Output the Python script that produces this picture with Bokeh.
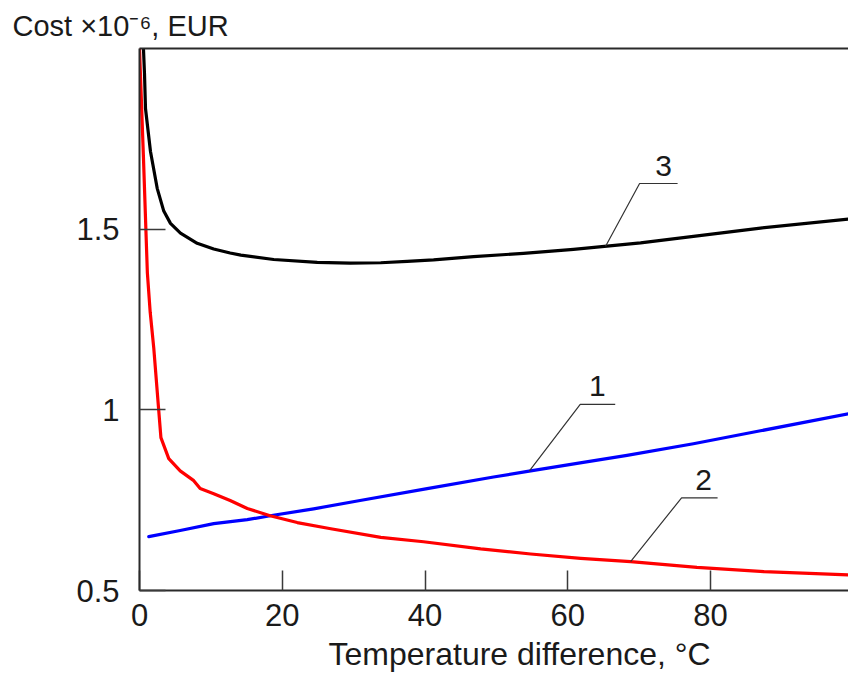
import numpy as np
from bokeh.plotting import figure
from bokeh.models import Range1d, FixedTicker, Label, LinearAxis, Title
from bokeh.embed import file_html
from bokeh.resources import INLINE

# ---------------- data ----------------
# curve 1 (blue)
t_1 = [1.3, 5.7, 10.4, 15.1, 18.3, 24.4, 30.9, 40.3, 49.6, 54.8, 61.3, 68.3, 77.6, 87.0, 99.33]
cost_1 = [0.649, 0.666, 0.685, 0.696, 0.707, 0.726, 0.749, 0.782, 0.814, 0.831, 0.852, 0.874, 0.906, 0.942, 0.989]

# curve 2 (red)
t_2 = [0.0, 0.55, 1.1, 1.5, 2.0, 2.7, 3.0, 4.1, 5.7, 7.6, 8.5, 10.4, 12.7, 15.1, 18.3, 22.1,
       26.8, 33.8, 39.8, 47.8, 54.8, 61.8, 68.8, 78.1, 87.5, 99.33]
cost_2 = [2.0, 1.70, 1.38, 1.27, 1.171, 0.997, 0.923, 0.865, 0.831, 0.804, 0.782, 0.768, 0.749, 0.727,
          0.707, 0.688, 0.671, 0.647, 0.635, 0.615, 0.601, 0.589, 0.58, 0.564, 0.552, 0.543]

# curve 3 (black, total)
t_3 = [0.45, 0.7, 0.84, 1.54, 2.48, 3.4, 4.34, 5.74, 8.08, 10.4, 12.7, 14.2, 18.8, 24.9, 29.5,
       33.8, 37.5, 41.2, 46.8, 53.8, 60.8, 65.5, 70.2, 77.6, 87.0, 99.33]
cost_3 = [2.05, 1.93, 1.834, 1.715, 1.613, 1.55, 1.516, 1.489, 1.461, 1.445, 1.434, 1.428, 1.416,
          1.408, 1.406, 1.407, 1.411, 1.415, 1.424, 1.433, 1.444, 1.453, 1.462, 1.48, 1.503, 1.528]

x_ticks = [0, 20, 40, 60, 80]
y_ticks = [0.5, 1.0, 1.5]
y_tick_labels = ["0.5", "1", "1.5"]
y_title = "Cost ×10⁻⁶, EUR"
x_title = "Temperature difference, °C"
curve_names = ["1", "2", "3"]
callout_t = [54.6, 68.8, 65.3]

# ---------------- layout / style ----------------
W, H = 848, 680
L, R, T, B = 139, 0, 46, 90
X0, X_END = 0.0, 99.33
Y0, Y1 = 0.5, 2.0
XS = (X_END - X0) / (W - L - R)   # data per px
YS = (Y1 - Y0) / (H - T - B)
TXT = "#1a1a1a"
AX = "#2a2a2a"
SANS = "Liberation Sans"

p = figure(width=W, height=H, x_range=Range1d(X0, X_END), y_range=Range1d(Y0, Y1),
           output_backend="svg", toolbar_location=None,
           min_border_left=L, min_border_right=R, min_border_top=T, min_border_bottom=B)
p.outline_line_color = None
p.grid.visible = False
p.background_fill_color = "white"
p.border_fill_color = "white"

for ax in (p.xaxis[0], p.yaxis[0]):
    ax.axis_line_width = 2
    ax.axis_line_color = AX
    ax.major_tick_line_color = "#3a3a3a"
    ax.major_tick_line_width = 1.5
    ax.major_tick_out = 0
    ax.minor_tick_line_color = None
    ax.minor_tick_in = 0
    ax.minor_tick_out = 0
    ax.major_label_text_font = SANS
    ax.major_label_text_font_size = "31px"
    ax.major_label_text_color = TXT

p.xaxis.ticker = FixedTicker(ticks=x_ticks)
p.xaxis.major_tick_in = 20
p.xaxis.major_label_standoff = 13
p.yaxis.ticker = FixedTicker(ticks=y_ticks)
p.yaxis.major_tick_in = 26
p.yaxis.major_label_standoff = 20
p.yaxis.major_label_overrides = {v: s for v, s in zip(y_ticks, y_tick_labels)}

top = LinearAxis(ticker=FixedTicker(ticks=[]), axis_line_width=2, axis_line_color=AX,
                 major_tick_line_color=None, minor_tick_line_color=None,
                 major_tick_in=0, major_tick_out=0, minor_tick_in=0, minor_tick_out=0,
                 major_label_text_font_size="0px", major_label_standoff=0)
p.add_layout(top, "above")

# ---------------- titles ----------------
p.title = Title(text=y_title, align="left", offset=12 - L, standoff=14,
                text_font=SANS, text_font_size="29px", text_font_style="normal",
                text_color=TXT)
p.add_layout(Title(text=x_title, align="left", offset=328 - L, standoff=10,
                   text_font=SANS, text_font_size="32px", text_font_style="normal",
                   text_color=TXT), "below")

# ---------------- curves ----------------
series = [(t_1, cost_1, "#0000ff"), (t_2, cost_2, "#ff0000"), (t_3, cost_3, "#000000")]
for t, c, col in series:
    p.line(t, c, line_color=col, line_width=3.2, line_join="round", line_cap="round")

# ---------------- numbered callouts ----------------
elbow_px = [(51, 67), (51, 64), (34, 63)]
hlen_px = [35, 36, 38]
lab_px = [17, 22, 24]
for name, tc, (t, c, _), (dx, dy), hl, lx in zip(curve_names, callout_t, series, elbow_px, hlen_px, lab_px):
    ya = float(np.interp(tc, t, c))
    xe = tc + dx * XS
    ye = ya + dy * YS
    p.line([tc, xe, xe + hl * XS], [ya, ye, ye], line_color="#333333", line_width=1.2)
    p.add_layout(Label(x=xe + lx * XS, y=ye + 18 * YS, text=name, text_align="center",
                       text_baseline="alphabetic", text_font=SANS, text_font_size="30px",
                       text_color=TXT))

open("out.html", "w").write(file_html(p, INLINE))
